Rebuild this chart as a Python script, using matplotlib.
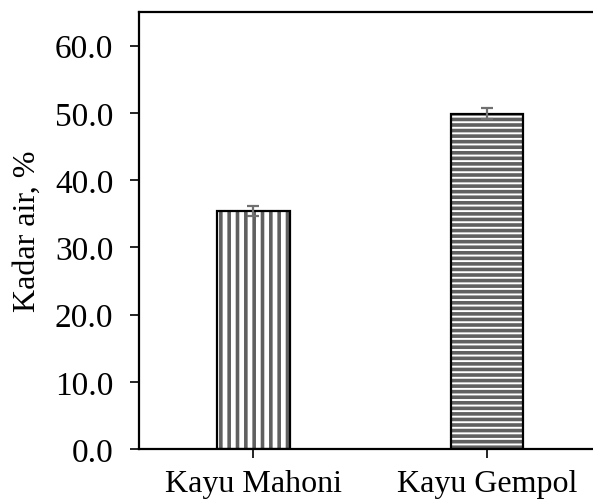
import matplotlib
matplotlib.use('Agg')
import matplotlib.pyplot as plt

kategori = ['Kayu Mahoni', 'Kayu Gempol']
kadar_air = [35.4, 49.9]
galat = [0.7, 0.8]
pola = ['||', '---']
yticks = [0, 10, 20, 30, 40, 50, 60]

plt.rcParams['font.family'] = ['Liberation Serif', 'DejaVu Serif']
plt.rcParams['hatch.linewidth'] = 2.6

fig = plt.figure(figsize=(5.93, 5.02), dpi=100)
ax = fig.add_axes([0.2344, 0.1036, 0.7656, 0.8704])

x = list(range(len(kategori)))
# isi arsir abu-abu dulu, lalu garis tepi hitam di atasnya
for i in x:
    ax.bar(x[i], kadar_air[i], width=0.31, color='white', edgecolor='#606060',
           hatch=pola[i], linewidth=0, zorder=2)
ax.bar(x, kadar_air, width=0.31, fill=False, edgecolor='black', linewidth=1.6, zorder=3)
ax.errorbar(x, kadar_air, yerr=galat, fmt='none', ecolor='#707070',
            elinewidth=1.6, capsize=4.5, capthick=1.6, zorder=4)

ax.set_xlim(-0.49, 1.455)
ax.set_ylim(0, 65)
ax.set_yticks(yticks)
ax.set_yticklabels(['%.1f' % v for v in yticks], fontsize=24)
ax.set_xticks(x)
ax.set_xticklabels(kategori, fontsize=23)
ax.set_ylabel('Kadar air, %', fontsize=23, labelpad=9)
ax.tick_params(length=6.5, width=1.2, direction='out')
ax.tick_params(axis='y', pad=12)
ax.tick_params(axis='x', pad=8)
ax.spines['right'].set_visible(False)
for s in ['left', 'top', 'bottom']:
    ax.spines[s].set_linewidth(1.6)

plt.savefig('out.png', dpi=100)
